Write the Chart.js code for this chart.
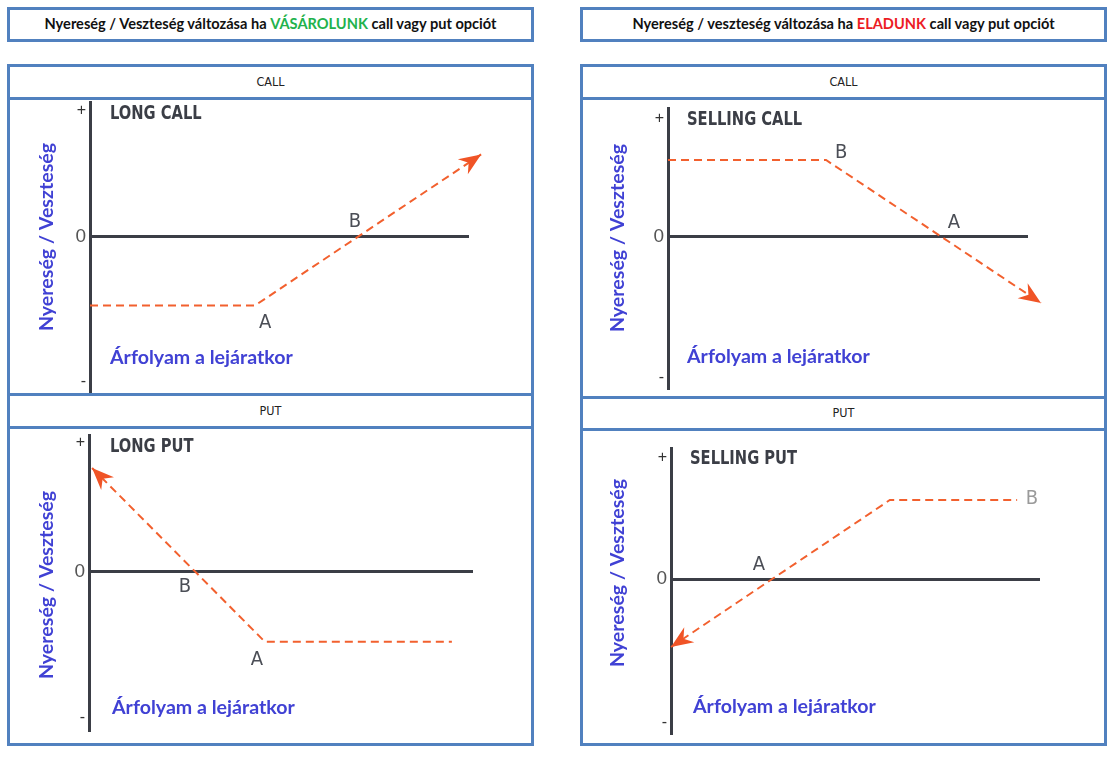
<!DOCTYPE html>
<html>
<head>
<meta charset="utf-8">
<script src="https://cdn.jsdelivr.net/npm/chart.js@4.4.1/dist/chart.umd.min.js"></script>
<style>
  body { margin: 0; width: 1119px; height: 759px; position: relative; overflow: hidden; background: #fff; }
  .frame { position: absolute; box-sizing: border-box; border: 3px solid #5181bf; }
  .heading { display: flex; align-items: center; justify-content: center; padding-bottom: 2px;
             font: bold 14.6px Lato, 'Liberation Sans', sans-serif; color: #111; }
  .heading .buy { color: #22b24c; }
  .heading .sell { color: #ec1c24; }
  .rule { position: absolute; height: 3px; background: #5181bf; }
  .tab { position: absolute; text-align: center; color: #222;
         font: 12.5px 'Liberation Sans Narrow', 'DejaVu Sans Condensed', sans-serif; }
  canvas { position: absolute; }
</style>
</head>
<body>

<div class="frame heading" style="left:7px;top:7px;width:527px;height:35px">Nyereség / Veszteség változása ha&nbsp;<span class="buy">VÁSÁROLUNK</span>&nbsp;call vagy put opciót</div>
<div class="frame heading" style="left:580px;top:7px;width:527px;height:35px">Nyereség / veszteség változása ha&nbsp;<span class="sell">ELADUNK</span>&nbsp;call vagy put opciót</div>

<div class="frame" style="left:7px;top:64px;width:527px;height:682px"></div>
<div class="rule" style="left:7px;top:97px;width:527px"></div>
<div class="rule" style="left:7px;top:393px;width:527px"></div>
<div class="rule" style="left:7px;top:426px;width:527px"></div>
<div class="tab" style="left:7px;top:74px;width:527px">CALL</div>
<div class="tab" style="left:7px;top:403px;width:527px">PUT</div>

<div class="frame" style="left:580px;top:64px;width:527px;height:682px"></div>
<div class="rule" style="left:580px;top:97px;width:527px"></div>
<div class="rule" style="left:580px;top:396px;width:527px"></div>
<div class="rule" style="left:580px;top:428px;width:527px"></div>
<div class="tab" style="left:580px;top:74px;width:527px">CALL</div>
<div class="tab" style="left:580px;top:405px;width:527px">PUT</div>

<canvas id="long-call"></canvas>
<canvas id="long-put"></canvas>
<canvas id="sell-call"></canvas>
<canvas id="sell-put"></canvas>

<script>
// ─── Data (price 0–100 along the zero line, P/L in arbitrary units) ───

const tickLabels = ['-', '0', '+'];
const pointNames = ['A', 'B'];
const priceCaption = 'Árfolyam a lejáratkor';
const pnlCaption = 'Nyereség / Veszteség';

const longCallPrice = [0, 43.5, 103.2];
const longCallPnl = [-5.5, -5.5, 6.6];
const longCallTicks = [-11.6, 0, 10.1];
const longCallRange = [-12.5, 10.8];
const longCallLabelPrice = [46.2, 69.9];
const longCallLabelPnl = [-6.9, 1.2];

const longPutPrice = [0.8, 45.8, 94.5];
const longPutPnl = [8.3, -5.6, -5.6];
const longPutTicks = [-11.7, 0, 10.3];
const longPutRange = [-12.66, 10.94];
const longPutLabelPrice = [43.7, 25.0];
const longPutLabelPnl = [-7.06, -1.22];

const sellCallPrice = [0, 43.9, 103.6];
const sellCallPnl = [6.16, 6.16, -5.28];
const sellCallTicks = [-11.28, 0, 9.44];
const sellCallRange = [-12.08, 10.32];
const sellCallLabelPrice = [79.4, 48.1];
const sellCallLabelPnl = [1.12, 6.72];

const sellPutPrice = [0, 59.3, 93.8];
const sellPutPnl = [-5.44, 6.32, 6.32];
const sellPutTicks = [-11.52, 0, 9.68];
const sellPutRange = [-12.32, 10.48];
const sellPutLabelPrice = [23.8, 97.8];
const sellPutLabelPnl = [1.12, 6.4];

// ─── Styles ──────────────────────────────────────────────────────────

const AXIS = '#3b3e46';
const DASH = '#f2602e';
const ARROW = '#f05426';
const CAPTION = '#4041d4';
const NARROW = "'Liberation Sans Narrow', 'DejaVu Sans Condensed', sans-serif";
const TITLE_FONT = 'bold 19px ' + NARROW;
const TITLE_SQUEEZE = 0.86;   // the original uses a condensed face
const POINT_FONT = '20px ' + NARROW;
const CAPTION_FONT = "bold 19.6px Lato, 'Liberation Sans', sans-serif";

// ─── Layout (page pixels) ────────────────────────────────────────────

const layouts = {
  'long-call': { left: 10, top: 100, width: 521, height: 293, axisX: 90, axisTop: 102, axisBottom: 393, zeroEnd: 469,
                 titleAt: [110, 114], captionAt: [110, 358], pnlAt: [47, 237] },
  'long-put':  { left: 10, top: 429, width: 521, height: 314, axisX: 89, axisTop: 435, axisBottom: 730, zeroEnd: 473,
                 titleAt: [110, 447], captionAt: [112, 708], pnlAt: [47, 585] },
  'sell-call': { left: 583, top: 100, width: 521, height: 296, axisX: 668, axisTop: 108, axisBottom: 388, zeroEnd: 1028,
                 titleAt: [687, 120], captionAt: [687, 357], pnlAt: [618, 238] },
  'sell-put':  { left: 583, top: 431, width: 521, height: 312, axisX: 671, axisTop: 448, axisBottom: 733, zeroEnd: 1040,
                 titleAt: [690, 459], captionAt: [693, 707], pnlAt: [618, 573] },
};

// ─── Decorations: arrow head, titles, captions, A/B marks ───────────

function decorations(p, d) {
  return {
    id: 'decorations',
    afterDatasetsDraw(chart) {
      const { ctx, scales: { x, y } } = chart;
      const pts = chart.getDatasetMeta(0).data;
      const [tipI, fromI] = d.arrowAt === 'start' ? [0, 1] : [pts.length - 1, pts.length - 2];
      const tip = pts[tipI], from = pts[fromI];

      ctx.save();
      ctx.translate(tip.x, tip.y);
      ctx.rotate(Math.atan2(tip.y - from.y, tip.x - from.x));
      ctx.fillStyle = ARROW;
      ctx.beginPath();
      ctx.moveTo(0, 0);
      ctx.lineTo(-22, -9);
      ctx.lineTo(-15, 0);
      ctx.lineTo(-22, 9);
      ctx.closePath();
      ctx.fill();
      ctx.restore();

      ctx.save();
      ctx.textBaseline = 'middle';

      ctx.font = POINT_FONT;
      ctx.textAlign = 'center';
      pointNames.forEach((name, i) => {
        ctx.fillStyle = d.labelColors[i];
        ctx.fillText(name, x.getPixelForValue(d.labelPrice[i]), y.getPixelForValue(d.labelPnl[i]));
      });

      ctx.textAlign = 'left';
      ctx.font = CAPTION_FONT;
      ctx.fillStyle = CAPTION;
      ctx.fillText(priceCaption, p.captionAt[0] - p.left, p.captionAt[1] - p.top);

      ctx.save();
      ctx.translate(p.pnlAt[0] - p.left, p.pnlAt[1] - p.top);
      ctx.rotate(-Math.PI / 2);
      ctx.textAlign = 'center';
      ctx.fillText(pnlCaption, 0, 0);
      ctx.restore();

      ctx.translate(p.titleAt[0] - p.left, p.titleAt[1] - p.top);
      ctx.scale(TITLE_SQUEEZE, 1);
      ctx.font = TITLE_FONT;
      ctx.fillStyle = AXIS;
      ctx.fillText(d.title, 0, 0);
      ctx.restore();
    }
  };
}

// ─── Chart factory ───────────────────────────────────────────────────

function payoffChart(id, d) {
  const p = layouts[id];
  const el = document.getElementById(id);
  el.style.left = p.left + 'px';
  el.style.top = p.top + 'px';
  el.width = p.width;
  el.height = p.height;

  return new Chart(el, {
    type: 'line',
    data: {
      datasets: [{
        data: d.price.map((v, i) => ({ x: v, y: d.pnl[i] })),
        borderColor: DASH,
        borderWidth: 2,
        borderDash: [8, 5],
        pointRadius: 0,
        tension: 0,
        fill: false,
        clip: false,
      }]
    },
    options: {
      responsive: false,
      animation: false,
      layout: {
        padding: {
          left: 0,
          top: p.axisTop - p.top,
          right: p.left + p.width - p.zeroEnd,
          bottom: p.top + p.height - p.axisBottom,
        }
      },
      plugins: { legend: { display: false }, tooltip: { enabled: false } },
      scales: {
        x: { type: 'linear', display: false, min: 0, max: 100 },
        y: {
          type: 'linear',
          min: d.range[0],
          max: d.range[1],
          afterBuildTicks: s => { s.ticks = d.ticks.map(v => ({ value: v })); },
          afterFit: s => { s.width = p.axisX - p.left; s.paddingTop = 0; s.paddingBottom = 0; },
          border: { display: true, color: AXIS, width: 3 },
          grid: {
            drawTicks: false,
            lineWidth: 3,
            color: c => (c.tick && c.tick.value === 0 ? AXIS : 'rgba(0,0,0,0)'),
          },
          ticks: {
            padding: 4,
            callback: (v, i) => tickLabels[i],
            color: c => (c.tick && c.tick.value === 0 ? '#555' : '#333'),
            font: c => (c.tick && c.tick.value === 0
              ? { family: "'Liberation Sans', sans-serif", size: 19 }
              : { family: "'Liberation Sans', sans-serif", size: 16 }),
          },
        },
      },
    },
    plugins: [decorations(p, d)],
  });
}

// ─── Boot ────────────────────────────────────────────────────────────

payoffChart('long-call', {
  title: 'LONG CALL', price: longCallPrice, pnl: longCallPnl, ticks: longCallTicks, range: longCallRange,
  labelPrice: longCallLabelPrice, labelPnl: longCallLabelPnl, labelColors: ['#4b4e56', '#4b4e56'], arrowAt: 'end',
});
payoffChart('long-put', {
  title: 'LONG PUT', price: longPutPrice, pnl: longPutPnl, ticks: longPutTicks, range: longPutRange,
  labelPrice: longPutLabelPrice, labelPnl: longPutLabelPnl, labelColors: ['#4b4e56', '#4b4e56'], arrowAt: 'start',
});
payoffChart('sell-call', {
  title: 'SELLING CALL', price: sellCallPrice, pnl: sellCallPnl, ticks: sellCallTicks, range: sellCallRange,
  labelPrice: sellCallLabelPrice, labelPnl: sellCallLabelPnl, labelColors: ['#4b4e56', '#4b4e56'], arrowAt: 'end',
});
payoffChart('sell-put', {
  title: 'SELLING PUT', price: sellPutPrice, pnl: sellPutPnl, ticks: sellPutTicks, range: sellPutRange,
  labelPrice: sellPutLabelPrice, labelPnl: sellPutLabelPnl, labelColors: ['#4b4e56', '#9a9a9a'], arrowAt: 'start',
});
</script>
</body>
</html>
